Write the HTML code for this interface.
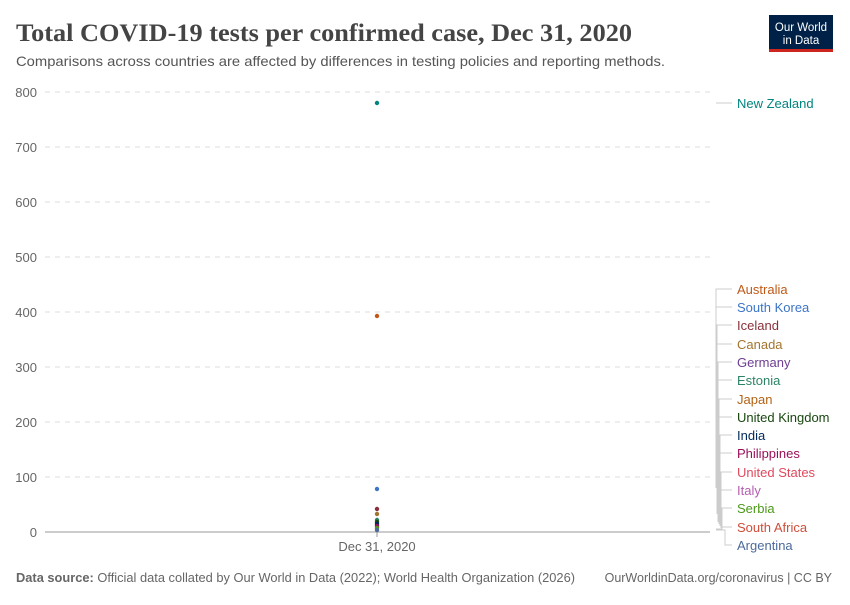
<!DOCTYPE html>
<html><head><meta charset="utf-8"><style>
body{margin:0;background:#fff;font-family:"Liberation Sans",sans-serif;}
</style></head><body>
<svg width="850" height="600" xmlns="http://www.w3.org/2000/svg" font-family="Liberation Sans, sans-serif">
<text x="16" y="41" font-family="Liberation Serif, serif" font-size="25" font-weight="bold" fill="#444" textLength="616" lengthAdjust="spacingAndGlyphs">Total COVID-19 tests per confirmed case, Dec 31, 2020</text>
<text x="16" y="66" font-size="14" fill="#555" textLength="649" lengthAdjust="spacingAndGlyphs">Comparisons across countries are affected by differences in testing policies and reporting methods.</text>
<rect x="769" y="15" width="64" height="37" fill="#002147"/>
<rect x="769" y="49" width="64" height="3" fill="#ce261e"/>
<text x="801" y="31" font-size="11.5" fill="#fff" text-anchor="middle">Our World</text>
<text x="801" y="44" font-size="11.5" fill="#fff" text-anchor="middle">in Data</text>
<g stroke="#ddd" stroke-dasharray="5,5">
<line x1="45" x2="710" y1="92" y2="92"/><line x1="45" x2="710" y1="147" y2="147"/><line x1="45" x2="710" y1="202" y2="202"/><line x1="45" x2="710" y1="257" y2="257"/><line x1="45" x2="710" y1="312" y2="312"/><line x1="45" x2="710" y1="367" y2="367"/><line x1="45" x2="710" y1="422" y2="422"/><line x1="45" x2="710" y1="477" y2="477"/>
</g>
<line x1="45" x2="710" y1="532" y2="532" stroke="#999"/>
<line x1="377" x2="377" y1="532" y2="537" stroke="#999"/>
<g font-size="13" fill="#666" text-anchor="end">
<text x="37" y="97">800</text><text x="37" y="152">700</text><text x="37" y="207">600</text><text x="37" y="262">500</text><text x="37" y="317">400</text><text x="37" y="372">300</text><text x="37" y="427">200</text><text x="37" y="482">100</text><text x="37" y="537">0</text>
</g>
<text x="377" y="551" font-size="13" fill="#666" text-anchor="middle">Dec 31, 2020</text>
<g fill="none" stroke="#ccc">
<path d="M716 103H732"/>
<path d="M716 316V289H732"/><path d="M716 488V307H732"/><path d="M717 509V325H732"/><path d="M717 514V344H732"/><path d="M718 521V362H732"/><path d="M718 522V380H732"/><path d="M719 523V399H732"/><path d="M719 524V417H732"/><path d="M720 525V435H732"/><path d="M720 526V453H732"/><path d="M721 527V472H732"/><path d="M721 528V490H732"/><path d="M722 529V508H732"/><path d="M716 529H722V527H732"/><path d="M716 530H725V545H732"/>
</g>
<g>
<circle cx="377" cy="103" r="2.2" fill="#00847e"/>
<circle cx="377" cy="316" r="2.2" fill="#c05917"/>
<circle cx="377" cy="489" r="2.2" fill="#3c75c7"/>
<circle cx="377" cy="509" r="2.2" fill="#883039"/>
<circle cx="377" cy="514" r="2.2" fill="#a2752f"/>
<circle cx="377" cy="520" r="2.2" fill="#2c8465"/>
<circle cx="377" cy="522" r="2.2" fill="#18470f"/>
<circle cx="377" cy="524" r="2.2" fill="#00295b"/>
<circle cx="377" cy="526" r="2.2" fill="#9a0f5a"/>
<circle cx="377" cy="528" r="2.2" fill="#4c9a1a"/>
<circle cx="377" cy="530" r="2.2" fill="#4c6a9c"/>
</g>
<g font-size="13">
<text x="737" y="108" fill="#00847e">New Zealand</text>
<text x="737" y="294" fill="#c05917">Australia</text>
<text x="737" y="312" fill="#3c75c7">South Korea</text>
<text x="737" y="330" fill="#883039">Iceland</text>
<text x="737" y="349" fill="#a2752f">Canada</text>
<text x="737" y="367" fill="#6d3e91">Germany</text>
<text x="737" y="385" fill="#2c8465">Estonia</text>
<text x="737" y="404" fill="#b16214">Japan</text>
<text x="737" y="422" fill="#18470f">United Kingdom</text>
<text x="737" y="440" fill="#00295b">India</text>
<text x="737" y="458" fill="#9a0f5a">Philippines</text>
<text x="737" y="477" fill="#e04a5d">United States</text>
<text x="737" y="495" fill="#b55eb0">Italy</text>
<text x="737" y="513" fill="#4c9a1a">Serbia</text>
<text x="737" y="532" fill="#cf4d3a">South Africa</text>
<text x="737" y="550" fill="#4c6a9c">Argentina</text>
</g>
<text x="16" y="582" font-size="12.5" fill="#666" textLength="559" lengthAdjust="spacingAndGlyphs"><tspan font-weight="bold">Data source:</tspan> Official data collated by Our World in Data (2022); World Health Organization (2026)</text>
<text x="832" y="582" font-size="12.5" fill="#666" text-anchor="end">OurWorldinData.org/coronavirus | CC BY</text>
</svg>
</body></html>
